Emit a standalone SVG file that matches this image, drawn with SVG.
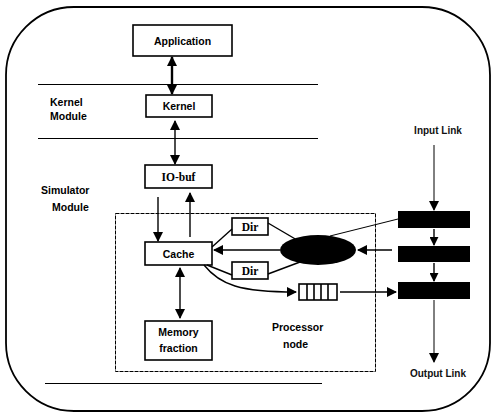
<svg xmlns="http://www.w3.org/2000/svg" width="491" height="415" viewBox="0 0 491 415">
<style>
.box{fill:#fff;stroke:#000;stroke-width:1.6}
.t{font-family:"Liberation Sans",Arial,sans-serif;font-weight:bold;font-size:10.5px;fill:#000}
.s{font-family:"Liberation Serif","Times New Roman",serif;font-weight:bold;font-size:11.5px;fill:#000}
.l{font-family:"Liberation Sans",Arial,sans-serif;font-weight:bold;font-size:10px;fill:#111}
.ln{stroke:#000;stroke-width:1.4;fill:none}
.thin{stroke:#000;stroke-width:1;fill:none}
.sep{stroke:#000;stroke-width:1.2}
.blk{fill:#000}
</style>
<defs>
<marker id="ah" viewBox="0 0 10 10" refX="9" refY="5" markerWidth="10" markerHeight="10" markerUnits="userSpaceOnUse" orient="auto-start-reverse">
<path d="M0,0 L10,5 L0,10 Z" fill="#000"/>
</marker>
<marker id="ahs" viewBox="0 0 10 10" refX="9" refY="5" markerWidth="9" markerHeight="9" markerUnits="userSpaceOnUse" orient="auto-start-reverse">
<path d="M0,0 L10,5 L0,10 Z" fill="#000"/>
</marker>
</defs>

<rect x="6" y="7" width="484" height="404" rx="68" ry="68" fill="none" stroke="#000" stroke-width="1.8"/>

<g id="separators">
<line class="sep" x1="38" y1="84.5" x2="318" y2="84.5"/>
<line class="sep" x1="38" y1="138.5" x2="318" y2="138.5"/>
<line class="sep" x1="45" y1="383.5" x2="322" y2="383.5"/>
</g>

<g id="labels">
<text class="t" x="50" y="106">Kernel</text>
<text class="t" x="50" y="120">Module</text>
<text class="t" x="41" y="194">Simulator</text>
<text class="t" x="52" y="211">Module</text>
<text class="l" x="438" y="134" text-anchor="middle">Input Link</text>
<text class="l" x="438" y="377" text-anchor="middle">Output Link</text>
</g>

<g id="processor-node">
<rect x="115.5" y="213.5" width="260" height="158" fill="none" stroke="#000" stroke-width="1" stroke-dasharray="4,1"/>
<text class="t" x="272" y="331">Processor</text>
<text class="t" x="283" y="348">node</text>
</g>

<g id="application"><rect class="box" x="133" y="25" width="99" height="31"/><text class="t" x="182.5" y="44.5" text-anchor="middle">Application</text></g>
<g id="kernel"><rect class="box" x="146" y="95" width="66" height="22"/><text class="t" x="179" y="110" text-anchor="middle">Kernel</text></g>
<g id="iobuf"><rect class="box" x="145" y="165" width="67" height="23"/><text class="s" x="178.5" y="180.5" text-anchor="middle">IO-buf</text></g>
<g id="cache"><rect class="box" x="145" y="242" width="67" height="23"/><text class="t" x="178.5" y="257.5" text-anchor="middle">Cache</text></g>
<g id="dir1"><rect class="box" x="232" y="218" width="36" height="17"/><text class="s" x="250" y="230.5" text-anchor="middle">Dir</text></g>
<g id="dir2"><rect class="box" x="232" y="262" width="36" height="17"/><text class="s" x="250" y="274.5" text-anchor="middle">Dir</text></g>
<g id="memory"><rect class="box" x="145" y="321" width="67" height="39"/><text class="t" x="178.5" y="336" text-anchor="middle">Memory</text><text class="t" x="178.5" y="352" text-anchor="middle">fraction</text></g>
<g id="router"><ellipse cx="318" cy="250" rx="38" ry="15" fill="#000"/></g>
<g id="queue">
<rect x="299" y="284" width="38" height="16" fill="#fff" stroke="#000" stroke-width="1.6"/>
<path d="M307,284 V300 M314,284 V300 M321,284 V300 M328,284 V300" stroke="#000" stroke-width="1.6"/>
</g>
<g id="block1"><rect class="blk" x="398" y="211" width="72" height="17"/></g>
<g id="block2"><rect class="blk" x="398" y="246" width="72" height="16"/></g>
<g id="block3"><rect class="blk" x="398" y="282" width="72" height="17"/></g>

<g id="connectors">
<line x1="172" y1="57" x2="172" y2="94" stroke="#000" stroke-width="2.4" marker-start="url(#ah)" marker-end="url(#ah)"/>
<line x1="175" y1="121" x2="175" y2="164" class="ln" marker-start="url(#ah)" marker-end="url(#ah)"/>
<line x1="158" y1="197" x2="158" y2="241" class="ln" marker-end="url(#ah)"/>
<line x1="190" y1="237" x2="190" y2="193" class="ln" marker-end="url(#ah)"/>
<line x1="180" y1="268" x2="180" y2="318" class="ln" marker-start="url(#ah)" marker-end="url(#ah)"/>
<line x1="212" y1="247" x2="232" y2="229" class="ln"/>
<line x1="207" y1="265" x2="232" y2="275" class="ln"/>
<line x1="268" y1="223" x2="297" y2="240" class="ln"/>
<line x1="268" y1="274" x2="300" y2="262" class="ln"/>
<line x1="280" y1="250" x2="214" y2="250" class="ln" marker-end="url(#ah)"/>
<path d="M204,265 C220,285 240,292 296,292" class="ln" marker-end="url(#ah)"/>
<line x1="340" y1="292" x2="396" y2="292" class="ln" marker-end="url(#ah)"/>
<line x1="330" y1="236" x2="398" y2="219" class="thin"/>
<line x1="392" y1="250" x2="358" y2="250" class="ln" marker-end="url(#ah)"/>
<line x1="434" y1="145" x2="434" y2="210" class="thin" marker-end="url(#ah)"/>
<line x1="434" y1="229" x2="434" y2="245" class="ln" marker-end="url(#ahs)"/>
<line x1="434" y1="263" x2="434" y2="281" class="ln" marker-end="url(#ahs)"/>
<line x1="434" y1="300" x2="434" y2="362" class="thin" marker-end="url(#ah)"/>
</g>
</svg>
